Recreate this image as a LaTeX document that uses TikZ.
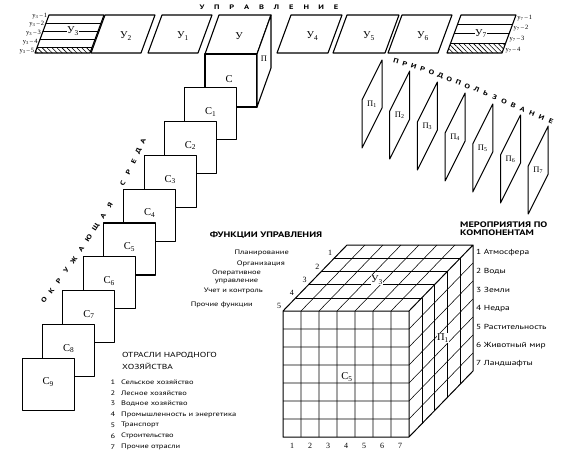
\documentclass[tikz,border=0pt]{standalone}
\usepackage{fontspec}
\setmainfont{Liberation Serif}
\newfontfamily\wfont[FakeStretch=1.3]{PT Sans}
\usetikzlibrary{patterns.meta}
\begin{document}
\begin{tikzpicture}[x=1pt,y=-1pt,line join=round,
  shp/.style={draw,line width=1.1pt,fill=white},
  pln/.style={draw,line width=1pt,fill=white},
  grd/.style={line width=0.55pt},
  edg/.style={line width=1pt},
  big/.style={font=\fontsize{10.5}{11}\selectfont,inner sep=0.5pt},
  sml/.style={font=\fontsize{8.5}{9}\selectfont,inner sep=0.5pt},
  minil/.style={font=\fontsize{6.5}{7}\selectfont,inner sep=0.3pt},
  itm/.style={font=\wfont\fontsize{6.5}{8}\selectfont,inner sep=0pt},
  itb/.style={font=\wfont\fontsize{7.3}{8}\selectfont,inner sep=0pt},
  ohd/.style={font=\wfont\fontsize{7.3}{12}\selectfont,inner sep=0pt},
  hd/.style={font=\wfont\bfseries\fontsize{8}{7.5}\selectfont,inner sep=0pt},
  sp/.style={font=\wfont\bfseries\fontsize{6.5}{7}\selectfont,inner sep=0pt},
  num/.style={font=\fontsize{8}{8}\selectfont,inner sep=0pt},
  hatch/.style={pattern={Lines[angle=-45,distance=3.5pt,line width=0.6pt]}}]
\useasboundingbox (0,0) rectangle (563,466);

% ---- title
\foreach \l [count=\i from 0] in {У,П,Р,А,В,Л,Е,Н,И,Е}
  \node[sp] (tu\i) at (202+14.9*\i,7) {\l};

% ---- striped Y3
\begin{scope}
  \clip (35,53) -- (90,53) -- (104,15) -- (49,15) -- cycle;
  \fill[hatch] (0,47) rectangle (120,53);
  \draw[line width=0.8pt] (0,23) -- (120,23) (0,31) -- (120,31) (0,39) -- (120,39) (0,47) -- (120,47);
\end{scope}
\draw[line width=1.1pt] (35,53) -- (90,53) -- (104,15) -- (49,15) -- cycle;
\node[big,fill=white] (u3) at (73,31) {У\textsubscript{3}};
\foreach \y/\k in {16/1,24/2,33/3,42/4,51/5}
  \node[minil,anchor=east] (la\k) at ({35+14*(53-\y)/38-1},\y) {у\textsubscript{3}\,–\,\k};

% ---- striped Y7
\begin{scope}
  \clip (447,53) -- (502,53) -- (516,15) -- (461,15) -- cycle;
  \fill[hatch] (440,43) rectangle (520,53);
  \draw[line width=0.8pt] (440,24) -- (520,24) (440,33.5) -- (520,33.5) (440,43) -- (520,43);
\end{scope}
\draw[line width=1.1pt] (447,53) -- (502,53) -- (516,15) -- (461,15) -- cycle;
\node[big,fill=white] (u7) at (481,33.5) {У\textsubscript{7}};
\foreach \y/\k in {18/1,28/2,39/3,50/4}
  \node[minil,anchor=west] (lb\k) at ({502+14*(53-\y)/38+2},\y) {у\textsubscript{7}\,–\,\k};

% ---- plain parallelograms
\foreach \x/\w/\n/\s in {91/50/u2/2,148/50/u1/1,277/51/u4/4,333/52/u5/5,388/50/u6/6} {
  \draw[shp] (\x,53) -- ++(\w,0) -- ++(14,-38) -- ++(-\w,0) -- cycle;
  \node[big] (\n) at (\x+\w/2+10,36) {У\textsubscript{\s}};
}

% ---- small cube
\draw[shp] (205,54) -- (257,54) -- (271,15) -- (219,15) -- cycle;
\node[big] (u0) at (239,36) {У};
\draw[shp] (205,54) rectangle (257,107);
\node[big] (c0) at (229,79) {С};
\draw[shp] (257,54) -- (271,15) -- (271,68) -- (257,107) -- cycle;
\node[sml] (p0) at (264,59) {П};

% ---- stack of squares
\foreach \i in {1,...,9} {
  \draw[shp] ({205-20.3*\i},{54+33.8*\i}) rectangle ++(52,52);
  \node[big] (c\i) at ({231-20.3*\i},{78+33.8*\i}) {С\textsubscript{\i}};
}

% ---- planes
\foreach \k in {1,...,7} {
  \draw[pln] ({382+27.7*(\k-1)},{60+11*(\k-1)}) -- ++(0,48) -- ++(-20,40) -- ++(0,-48) -- cycle;
  \node[sml] (p\k) at ({372+27.7*(\k-1)},{104+11*(\k-1)}) {П\textsubscript{\k}};
}

% ---- curved words
\foreach \l [count=\i from 0] in {П,Р,И,Р,О,Д,О,П,О,Л,Ь,З,О,В,А,Н,И,Е} {
  \pgfmathsetmacro\myp{\i/17}
  \path (396,61) .. controls (446,75) and (497,99) .. (551,121)
    node[sp,sloped,pos=\myp] (pr\i) {\l};
}
\foreach \l/\q [count=\i] in {О/0,К/1,Р/2,У/3,Ж/4,А/5,Ю/6,Щ/7,А/8,Я/9,С/11,Р/12,Е/13,Д/14,А/15} {
  \pgfmathsetmacro\myp{\q/15}
  \path (44,300) .. controls (80,254) and (123,191) .. (143,141)
    node[sp,sloped,pos=\myp] (ok\i) {\l};
}

% ---- big cube
\draw[grd] foreach \i in {1,...,6} {(283+18*\i,311) -- (283+18*\i,437) (283+18*\i,311) -- ++(64,-66)};
\draw[grd] foreach \j in {1,...,6} {(283,311+18*\j) -- (409,311+18*\j) (409,311+18*\j) -- ++(64,-66)};
\draw[grd] foreach \k in {1,...,4} {(283+12.8*\k,311-13.2*\k) -- ++(126,0) -- ++(0,126)};
\draw[edg] (283,311) rectangle (409,437) (283,311) -- (347,245) -- (473,245) -- (473,371) -- (409,437) (409,311) -- (473,245);
\foreach \i in {1,...,7} \node[num] (bn\i) at (274+18*\i,446) {\i};
\foreach \i in {1,...,5} \node[num] (rn\i) at ({279+12.8*(5-\i)},{306-13.2*(5-\i)}) {\i};
\node[big,fill=white] (cy) at (377,280) {У\textsubscript{3}};
\node[big,fill=white] (cp) at (443,338) {П\textsubscript{1}};
\node[big,fill=white] (cc) at (347,377) {С\textsubscript{5}};

% ---- functions
\node[hd] (fh) at (266,235) {ФУНКЦИИ УПРАВЛЕНИЯ};
\node[itm,anchor=east] (f1) at (289,253) {Планирование};
\node[itm,anchor=east] (f2) at (285,263.5) {Организация};
\node[itm,align=center] (f3) at (236.5,277) {Оперативное\\управление};
\node[itm,anchor=east] (f4) at (263,291) {Учет и контроль};
\node[itm,anchor=east] (f5) at (253,305) {Прочие функции};

% ---- components
\node[hd,align=left,anchor=west] (mh) at (460,228.5) {МЕРОПРИЯТИЯ ПО\\КОМПОНЕНТАМ};
\foreach \t [count=\i] in {Атмосфера,Воды,Земли,Недра,Растительность,Животный мир,Ландшафты}
  \node[itb,anchor=west] (m\i) at (476,{253+18.5*(\i-1)}) {\i\ \t};

% ---- branches
\node[ohd,align=left,anchor=west] (oh) at (122,361) {ОТРАСЛИ НАРОДНОГО\\ХОЗЯЙСТВА};
\foreach \t [count=\i] in {Сельское хозяйство,Лесное хозяйство,Водное хозяйство,Промышленность и энергетика,Транспорт,Строительство,Прочие отрасли} {
  \node[itm] (on\i) at (113,{382+10.8*(\i-1)}) {\i};
  \node[itm,anchor=west] (ot\i) at (121,{382+10.8*(\i-1)}) {\t};
}
\end{tikzpicture}
\end{document}
